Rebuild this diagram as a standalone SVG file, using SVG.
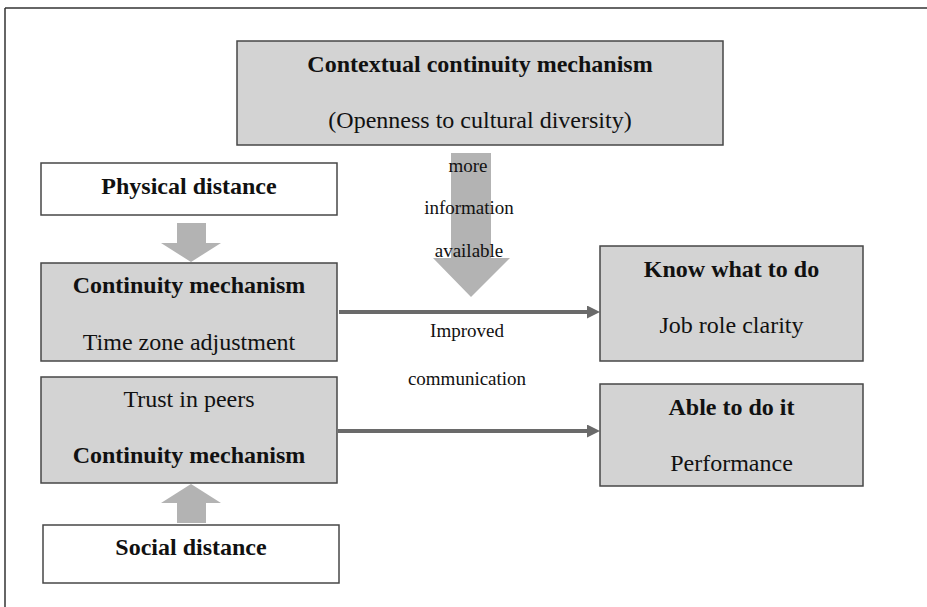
<svg xmlns="http://www.w3.org/2000/svg" width="927" height="607" viewBox="0 0 927 607">
<style>
.box{fill:#d3d3d3;stroke:#474747;stroke-width:1.5}
.wbox{fill:#ffffff;stroke:#474747;stroke-width:1.5}
text{font-family:"Liberation Serif","Times New Roman",serif;fill:#111;text-anchor:middle}
.t{font-size:24px}
.b{font-size:24px;font-weight:bold}
.lbl{font-size:19px}
.blk{fill:#b3b3b3}
.conn{stroke:#6a6a6a;stroke-width:4;fill:none}
</style>
<defs>
<marker id="ah" markerUnits="userSpaceOnUse" markerWidth="13" markerHeight="13" refX="0" refY="6.5" orient="auto">
<path d="M0,0 L13,6.5 L0,13 z" fill="#6a6a6a"/>
</marker>
</defs>
<rect width="927" height="607" fill="#ffffff"/>
<g id="frame" stroke="#333" stroke-width="1.5" fill="none">
<line x1="5" y1="8" x2="927" y2="8"/>
<line x1="5" y1="8" x2="5" y2="607"/>
</g>
<g id="connectors">
<polygon class="blk" points="451,153 491,153 491,258 510,258 471,297 433,258 451,258"/>
<polygon class="blk" points="177,223 206,223 206,243 221,243 191,262 161,243 177,243"/>
<polygon class="blk" points="177,523 206,523 206,503 221,503 191,484 161,503 177,503"/>
<line class="conn" x1="339" y1="312" x2="587" y2="312" marker-end="url(#ah)"/>
<line class="conn" x1="338" y1="431" x2="587" y2="431" marker-end="url(#ah)"/>
<text class="lbl" x="468" y="172">more</text>
<text class="lbl" x="469" y="214">information</text>
<text class="lbl" x="469" y="257">available</text>
<text class="lbl" x="467" y="337">Improved</text>
<text class="lbl" x="467" y="385">communication</text>
</g>
<g id="contextual">
<rect class="box" x="237" y="41" width="486" height="104"/>
<text class="b" x="480" y="72">Contextual continuity mechanism</text>
<text class="t" x="480" y="128">(Openness to cultural diversity)</text>
</g>
<g id="physical">
<rect class="wbox" x="41" y="163" width="296" height="52"/>
<text class="b" x="189" y="194">Physical distance</text>
</g>
<g id="continuity1">
<rect class="box" x="41" y="263" width="296" height="98"/>
<text class="b" x="189" y="293">Continuity mechanism</text>
<text class="t" x="189" y="350">Time zone adjustment</text>
</g>
<g id="continuity2">
<rect class="box" x="41" y="377" width="296" height="106"/>
<text class="t" x="189" y="407">Trust in peers</text>
<text class="b" x="189" y="463">Continuity mechanism</text>
</g>
<g id="social">
<rect class="wbox" x="43" y="525" width="296" height="58"/>
<text class="b" x="191" y="555">Social distance</text>
</g>
<g id="know">
<rect class="box" x="600" y="246" width="263" height="115"/>
<text class="b" x="731.5" y="277">Know what to do</text>
<text class="t" x="731.5" y="333">Job role clarity</text>
</g>
<g id="able">
<rect class="box" x="600" y="384" width="263" height="102"/>
<text class="b" x="731.5" y="415">Able to do it</text>
<text class="t" x="731.5" y="471">Performance</text>
</g>
</svg>
